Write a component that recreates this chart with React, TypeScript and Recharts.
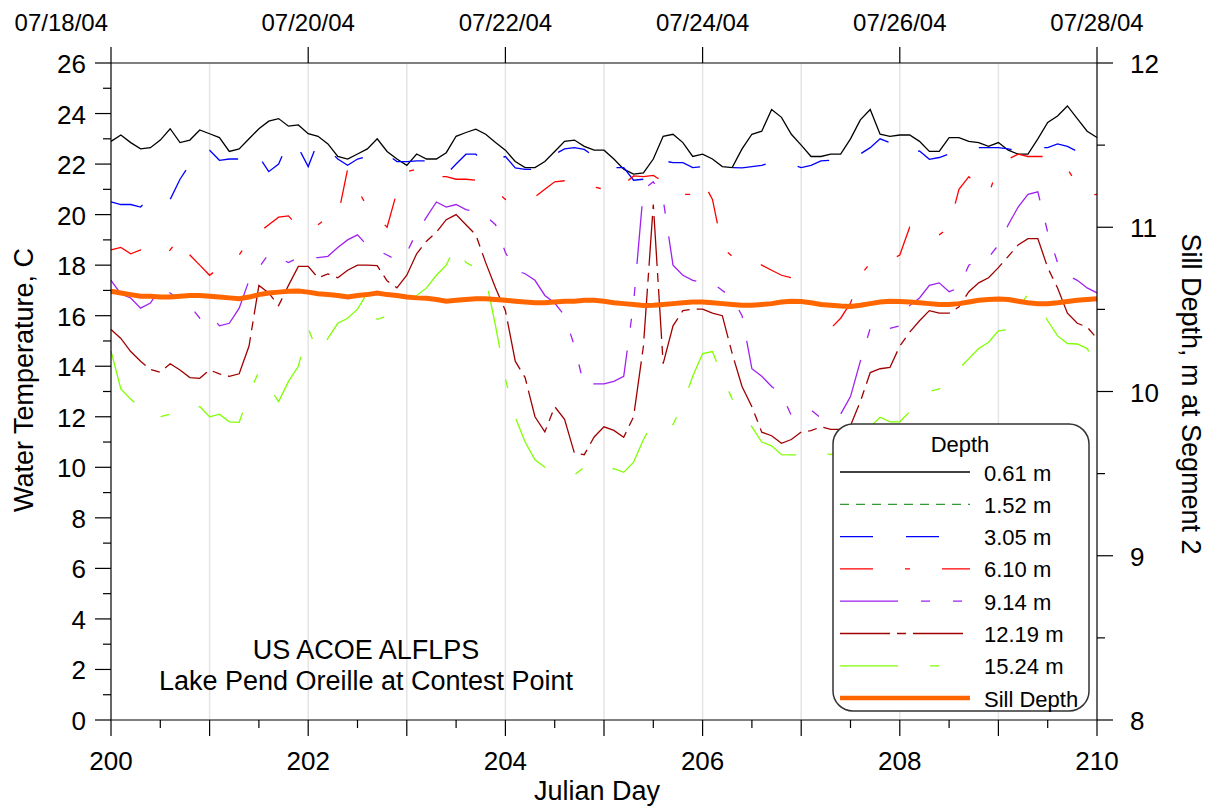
import React from 'react';
import { LineChart, Line, XAxis, YAxis, ReferenceLine } from 'recharts';

const FONT = '"Liberation Sans", Arial, Helvetica, sans-serif';

// readings every 0.1 Julian day, 200.0 .. 210.0
const days = Array.from({ length: 101 }, (_, i) => +(200 + i * 0.1).toFixed(1));

const temp061 = [
  22.9, 23.15, 22.85, 22.6, 22.65, 22.95, 23.4, 22.85, 22.95, 23.35,
  23.2, 23.05, 22.5, 22.6, 23.0, 23.4, 23.7, 23.8, 23.5, 23.55,
  23.2, 23.1, 22.8, 22.3, 22.2, 22.4, 22.6, 23.0, 22.5, 22.2,
  21.95, 22.4, 22.2, 22.2, 22.45, 23.1, 23.25, 23.38, 23.18, 22.85,
  22.55, 22.1, 21.86, 21.86, 22.1, 22.5, 22.9, 22.95, 22.7, 22.55,
  22.55, 22.2, 21.8, 21.6, 21.65, 22.2, 23.1, 23.18, 22.85, 22.3,
  22.39, 22.2, 21.9, 21.86, 22.6, 23.18, 23.3, 24.16, 23.85, 23.18,
  22.75, 22.3, 22.3, 22.39, 22.39, 23.0, 23.75, 24.16, 23.18, 23.1,
  23.15, 23.15, 22.9, 22.5, 22.5, 23.05, 23.05, 22.9, 22.85, 22.7,
  22.85, 22.55, 22.39, 22.39, 23.0, 23.65, 23.9, 24.3, 23.8, 23.3,
  23.05,
];

const temp305 = [
  20.5, 20.4, 20.4, 20.3, 20.7, 20.5, 20.6, 21.4, 22.0, 22.5,
  22.55, 22.15, 22.2, 22.2, 22.58, 22.3, 21.7, 22.0, 22.9, 22.65,
  21.9, 22.9, 22.6, 22.2, 21.95, 22.2, 22.3, 22.5, 22.39, 22.1,
  22.1, 22.13, 22.13, 22.0, 21.6, 22.0, 22.39, 22.39, 21.95, 22.2,
  22.3, 21.85, 21.79, 21.79, 22.0, 22.39, 22.6, 22.65, 22.58, 22.3,
  21.9, 21.86, 21.86, 21.36, 21.4, 21.9, 22.13, 22.06, 22.06, 21.86,
  21.9, 21.86, 21.86, 21.86, 21.85, 21.9, 21.95, 22.06, 21.95, 22.0,
  21.86, 21.95, 22.13, 22.15, 22.19, 22.3, 22.4, 22.65, 23.0, 22.85,
  22.6, 22.4, 22.52, 22.19, 22.26, 22.4, 22.6, 22.65, 22.65, 22.65,
  22.65, 22.6, 22.52, 22.6, 22.65, 22.65, 22.8, 22.7, 22.5, 22.7,
  22.85,
];

const temp610 = [
  18.6, 18.7, 18.45, 18.6, 18.5, 18.3, 18.6, 19.1, 18.4, 18.0,
  17.6, 17.9, 18.2, 18.4, 19.0, 19.3, 19.6, 19.9, 19.95, 19.5,
  19.36, 19.6, 19.9, 19.9, 21.8, 21.0, 20.3, 19.9, 19.5, 20.9,
  21.7, 21.8, 21.85, 21.5, 21.5, 21.4, 21.4, 21.36, 21.2, 20.94,
  20.6, 20.78, 20.78, 20.7, 21.0, 21.3, 21.34, 21.27, 21.23, 21.1,
  21.0, 20.9, 21.2, 21.53, 21.5, 21.55, 21.3, 21.2, 20.8, 20.8,
  21.34, 20.6, 18.7, 18.35, 18.3, 18.3, 18.0, 17.8, 17.6, 17.5,
  17.2, 16.6, 16.3, 15.5, 15.9, 16.5, 17.6, 18.08, 18.1, 18.2,
  18.4, 19.5, 19.3, 19.1, 19.2, 19.5, 21.0, 21.5, 21.1, 20.8,
  21.9, 22.2, 22.39, 22.3, 22.3, 22.3, 21.95, 21.8, 21.2, 20.76,
  20.8,
];

const temp914 = [
  17.4, 16.86, 16.7, 16.3, 16.5, 17.1, 16.9, 16.6, 16.4, 15.9,
  16.1, 15.6, 15.7, 16.3, 17.4, 17.9, 18.45, 18.3, 18.1, 18.3,
  18.3, 18.3, 18.35, 18.7, 19.0, 19.2, 18.77, 18.6, 18.4, 18.2,
  18.5, 19.3, 19.9, 20.5, 20.3, 20.4, 20.2, 20.1, 19.95, 19.6,
  18.5, 17.8, 17.66, 17.4, 16.8, 16.5, 16.0, 14.8, 13.2, 13.3,
  13.3, 13.4, 13.6, 16.5, 21.0, 21.3, 20.6, 18.0, 17.6, 17.4,
  17.3, 17.3, 17.0, 16.7, 16.0, 13.9, 13.6, 13.2, 12.9, 12.05,
  12.1, 12.27, 11.95, 12.0, 12.1, 12.8, 14.2, 15.5, 15.3, 15.5,
  15.6, 16.4, 16.7, 17.2, 17.3, 16.95, 17.1, 18.0, 18.2, 18.3,
  18.8, 19.6, 20.3, 20.8, 20.9, 19.3, 18.1, 17.6, 17.4, 17.1,
  16.9,
];

const temp1219 = [
  15.45, 15.1, 14.58, 14.2, 13.87, 13.76, 14.1, 13.85, 13.55, 13.52,
  13.85, 13.7, 13.6, 13.7, 14.8, 17.2, 16.9, 16.4, 17.2, 17.95,
  17.95, 17.5, 17.65, 17.5, 17.8, 18.0, 18.0, 17.98, 17.38, 17.1,
  17.6, 18.45, 18.95, 19.3, 19.8, 20.0, 19.6, 19.2, 18.1, 17.1,
  16.2, 14.2, 13.55, 12.0, 11.4, 12.4, 11.9, 10.56, 10.5, 11.2,
  11.6, 11.46, 11.19, 12.0, 14.8, 20.4, 14.1, 15.6, 16.2, 16.26,
  16.26, 16.1, 16.0, 14.5, 13.2, 12.4, 11.39, 11.25, 10.95, 11.1,
  11.4, 11.45, 11.6, 11.5, 11.5, 11.65, 12.6, 13.75, 13.9, 13.95,
  14.8, 15.35, 15.8, 16.2, 16.1, 16.1, 16.35, 16.95, 17.3, 17.5,
  17.9, 18.35, 18.8, 19.05, 19.05, 17.9, 17.1, 16.1, 15.7, 15.55,
  15.1,
];

const temp1524 = [
  14.6, 13.1, 12.7, 12.35, 12.0, 12.0, 12.1, 12.0, 12.2, 12.4,
  12.0, 12.1, 11.8, 11.78, 12.9, 13.8, 13.2, 12.6, 13.4, 14.0,
  15.5, 14.5, 15.1, 15.7, 15.9, 16.26, 16.9, 15.85, 16.0, 16.2,
  16.5, 16.8, 17.1, 17.6, 18.0, 18.8, 18.1, 17.9, 17.5, 15.6,
  13.5, 11.98, 11.0, 10.3, 10.0, 9.8, 9.7, 9.7, 10.0, 10.1,
  9.9, 9.95, 9.8, 10.2, 11.1, 11.8, 11.75, 11.69, 12.5, 13.6,
  14.5, 14.58, 13.6, 12.7, 12.2, 11.6, 11.0, 10.85, 10.5, 10.49,
  10.49, 10.55, 10.6, 10.5, 10.7, 11.0, 11.26, 11.6, 11.98, 11.8,
  11.8, 12.2, 12.5, 13.0, 13.1, 13.4, 13.9, 14.3, 14.7, 14.95,
  15.4, 15.45, 16.3, 16.85, 16.5, 15.8, 15.2, 14.9, 14.88, 14.7,
  14.05,
];

// sill depth at segment 2, metres (right axis)
const sillDepth = [
  10.61, 10.6, 10.59, 10.58, 10.58, 10.575, 10.575, 10.58, 10.585, 10.585,
  10.58, 10.575, 10.57, 10.565, 10.575, 10.59, 10.6, 10.605, 10.61, 10.612,
  10.605, 10.595, 10.59, 10.585, 10.575, 10.585, 10.59, 10.6, 10.59, 10.585,
  10.575, 10.57, 10.568, 10.56, 10.55, 10.555, 10.56, 10.565, 10.565, 10.56,
  10.555, 10.55, 10.545, 10.54, 10.54, 10.545, 10.55, 10.55, 10.555, 10.555,
  10.55, 10.54, 10.535, 10.53, 10.523, 10.525, 10.53, 10.535, 10.54, 10.545,
  10.545, 10.54, 10.535, 10.53, 10.525, 10.525, 10.53, 10.535, 10.545, 10.55,
  10.548, 10.54, 10.53, 10.525, 10.52, 10.518, 10.525, 10.535, 10.545, 10.55,
  10.548, 10.545, 10.54, 10.535, 10.53, 10.53, 10.535, 10.545, 10.555, 10.56,
  10.563, 10.56, 10.55, 10.54, 10.535, 10.535, 10.54, 10.548, 10.555, 10.56,
  10.565,
];

const dayTicks = [
  200, 200.5, 201, 201.5, 202, 202.5, 203, 203.5, 204, 204.5, 205,
  205.5, 206, 206.5, 207, 207.5, 208, 208.5, 209, 209.5, 210,
];
const gridDays = [201, 202, 203, 204, 205, 206, 207, 208, 209];
const dateTicks = [200, 202, 204, 206, 208, 210];
const dateLabels = ['07/18/04', '07/20/04', '07/22/04', '07/24/04', '07/26/04', '07/28/04'];
const tempTicks = [0, 1, 2, 3, 4, 5, 6, 7, 8, 9, 10, 11, 12, 13, 14, 15, 16, 17, 18, 19, 20, 21, 22, 23, 24, 25, 26];
const sillTicks = [8, 8.5, 9, 9.5, 10, 10.5, 11, 11.5, 12];

type Series = {
  key: string;
  name: string;
  color: string;
  dash?: string;
  width: number;
  values?: number[];
};

const depthSeries: Series[] = [
  { key: 't061', name: '0.61 m', color: '#000000', width: 1.3, values: temp061 },
  { key: 't152', name: '1.52 m', color: '#339933', dash: '9 7', width: 1.3 },
  { key: 't305', name: '3.05 m', color: '#0000ff', dash: '33 33', width: 1.3, values: temp305 },
  { key: 't610', name: '6.10 m', color: '#ff0000', dash: '33 32 5 32', width: 1.3, values: temp610 },
  { key: 't914', name: '9.14 m', color: '#a020f0', dash: '58 23 9 23 9 23', width: 1.3, values: temp914 },
  { key: 't1219', name: '12.19 m', color: '#a00000', dash: '50 7 9 7', width: 1.3, values: temp1219 },
  { key: 't1524', name: '15.24 m', color: '#7fff00', dash: '58 32 9 32', width: 1.3, values: temp1524 },
];
const SILL_COLOR = '#ff6600';

const rows = days.map((day, i) => {
  const row: Record<string, number> = { day, sill: sillDepth[i] };
  depthSeries.forEach((s) => {
    if (s.values) row[s.key] = s.values[i];
  });
  return row;
});

const LeftTick = ({ x, y, payload }: any) => {
  const v = payload.value;
  const major = v % 2 === 0;
  return (
    <g>
      <line x1={x} x2={x - (major ? 16 : 8)} y1={y} y2={y} stroke="#000" strokeWidth={1.2} />
      {major && (
        <text x={x - 25} y={y + 1} textAnchor="end" dominantBaseline="central" fontSize={26} fill="#000" fontFamily={FONT}>
          {v}
        </text>
      )}
    </g>
  );
};

const RightTick = ({ x, y, payload }: any) => {
  const v = payload.value;
  const major = Number.isInteger(v);
  return (
    <g>
      <line x1={x} x2={x + (major ? 16 : 8)} y1={y} y2={y} stroke="#000" strokeWidth={1.2} />
      {major && (
        <text x={x + 33} y={y + 1} textAnchor="start" dominantBaseline="central" fontSize={26} fill="#000" fontFamily={FONT}>
          {v}
        </text>
      )}
    </g>
  );
};

const BottomTick = ({ x, y, payload }: any) => {
  const v = payload.value;
  const major = Number.isInteger(v);
  return (
    <g>
      <line x1={x} x2={x} y1={y} y2={y + (major ? 16 : 8)} stroke="#000" strokeWidth={1.2} />
      {major && v % 2 === 0 && (
        <text x={x} y={y + 50} textAnchor="middle" fontSize={26} fill="#000" fontFamily={FONT}>
          {v}
        </text>
      )}
    </g>
  );
};

// the first date label sits left of its tick, the rest are centred
const TopTick = ({ x, y, payload }: any) => {
  const idx = dateTicks.indexOf(payload.value);
  const first = idx === 0;
  return (
    <g>
      <line x1={x} x2={x} y1={y} y2={y - 16} stroke="#000" strokeWidth={1.2} />
      <text
        x={first ? x - 3 : x}
        y={y - 32}
        textAnchor={first ? 'end' : 'middle'}
        fontSize={24}
        fill="#000"
        fontFamily={FONT}
      >
        {dateLabels[idx]}
      </text>
    </g>
  );
};

const LegendBox = () => {
  const left = 833;
  const top = 424;
  const rowY = (i: number) => 472 + i * 32.3;
  const entries = [
    ...depthSeries.map((s) => ({ name: s.name, color: s.color, dash: s.dash, width: s.width })),
    { name: 'Sill Depth', color: SILL_COLOR, dash: undefined, width: 4.5 },
  ];
  return (
    <g fontFamily={FONT}>
      <rect x={left} y={top} width={256} height={287} rx={20} ry={20} fill="#fff" stroke="#333" strokeWidth={1.5} />
      <text x={960} y={452} textAnchor="middle" fontSize={22} fill="#000">
        Depth
      </text>
      {entries.map((e, i) => (
        <g key={e.name}>
          <line x1={840} x2={970} y1={rowY(i)} y2={rowY(i)} stroke={e.color} strokeWidth={e.width} strokeDasharray={e.dash} />
          <text x={984} y={rowY(i) + 1} dominantBaseline="central" fontSize={22} fill="#000">
            {e.name}
          </text>
        </g>
      ))}
    </g>
  );
};

export default function App() {
  return (
    <div style={{ position: 'absolute', left: 0, top: 0, width: 1213, height: 808, background: '#fff' }}>
      <LineChart width={1213} height={808} data={rows} margin={{ top: 0, right: 0, bottom: 0, left: 0 }}>
        <XAxis
          xAxisId="bottom"
          dataKey="day"
          type="number"
          domain={[200, 210]}
          ticks={dayTicks}
          interval={0}
          height={88}
          tickSize={0}
          tickMargin={0}
          tickLine={false}
          axisLine={{ stroke: '#555', strokeWidth: 1.5 }}
          tick={(p: any) => <BottomTick {...p} />}
        />
        <XAxis
          xAxisId="top"
          orientation="top"
          dataKey="day"
          type="number"
          domain={[200, 210]}
          ticks={dateTicks}
          interval={0}
          height={63}
          tickSize={0}
          tickMargin={0}
          tickLine={false}
          axisLine={{ stroke: '#555', strokeWidth: 1.5 }}
          tick={(p: any) => <TopTick {...p} />}
        />
        <YAxis
          yAxisId="temp"
          type="number"
          domain={[0, 26]}
          ticks={tempTicks}
          interval={0}
          width={111}
          tickSize={0}
          tickMargin={0}
          tickLine={false}
          axisLine={{ stroke: '#000', strokeWidth: 1.2 }}
          tick={(p: any) => <LeftTick {...p} />}
        />
        <YAxis
          yAxisId="sill"
          orientation="right"
          type="number"
          domain={[8, 12]}
          ticks={sillTicks}
          interval={0}
          width={116}
          tickSize={0}
          tickMargin={0}
          tickLine={false}
          axisLine={{ stroke: '#000', strokeWidth: 1.2 }}
          tick={(p: any) => <RightTick {...p} />}
        />
        {gridDays.map((d) => (
          <ReferenceLine key={d} xAxisId="bottom" yAxisId="temp" x={d} stroke="#e4e4e4" strokeWidth={1.5} />
        ))}
        {depthSeries
          .filter((s) => s.values)
          .map((s) => (
            <Line
              key={s.key}
              xAxisId="bottom"
              yAxisId="temp"
              dataKey={s.key}
              type="linear"
              stroke={s.color}
              strokeWidth={s.width}
              strokeDasharray={s.dash}
              dot={false}
              isAnimationActive={false}
            />
          ))}
        <Line
          xAxisId="bottom"
          yAxisId="sill"
          dataKey="sill"
          type="linear"
          stroke={SILL_COLOR}
          strokeWidth={5}
          dot={false}
          isAnimationActive={false}
        />
      </LineChart>
      <svg
        width={1213}
        height={808}
        style={{ position: 'absolute', left: 0, top: 0, pointerEvents: 'none' }}
        fontFamily={FONT}
      >
        <text transform="translate(33,380) rotate(-90)" textAnchor="middle" fontSize={27} fill="#000">
          Water Temperature, C
        </text>
        <text transform="translate(1182,394) rotate(90)" textAnchor="middle" fontSize={27} fill="#000">
          Sill Depth, m at Segment 2
        </text>
        <text x={597} y={800} textAnchor="middle" fontSize={27} fill="#000">
          Julian Day
        </text>
        <text x={366} y={659} textAnchor="middle" fontSize={27} fill="#000">
          US ACOE ALFLPS
        </text>
        <text x={366} y={690} textAnchor="middle" fontSize={27} fill="#000">
          Lake Pend Oreille at Contest Point
        </text>
        <LegendBox />
      </svg>
    </div>
  );
}
